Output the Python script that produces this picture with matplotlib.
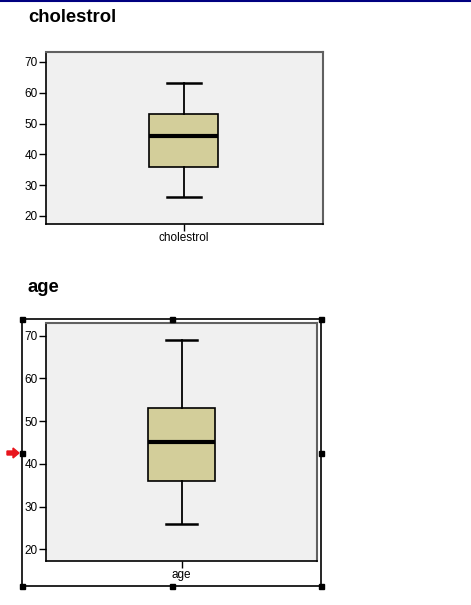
import matplotlib
matplotlib.use('Agg')
import matplotlib.pyplot as plt
from matplotlib.patches import Rectangle, FancyArrow

plt.rcParams['font.family'] = ['Liberation Sans', 'DejaVu Sans']

# box stats
variables = ['cholestrol', 'age']
medians = [46, 45]
q1s = [36, 36]
q3s = [53, 53]
whislo = [26, 26]
whishi = [63, 69]
yticks = [20, 30, 40, 50, 60, 70]

W, H = 471, 605
fig = plt.figure(figsize=(W / 100, H / 100), dpi=100)

def px_axes(x0, y0, x1, y1):
    # pixel box (top-left origin) -> figure fraction
    return fig.add_axes([x0 / W, 1 - y1 / H, (x1 - x0) / W, (y1 - y0) / H])

boxfill = '#d3ce9a'
face = '#f0f0f0'

# axes pixel boxes, y limits, box widths (fraction of x range)
layout = [
    dict(rect=(46, 52, 323, 224), ylim=(17.4, 73.2), pos=0.498, w=0.249, cw=0.123),
    dict(rect=(46, 323, 317, 561), ylim=(17.26, 72.97), pos=0.5, w=0.247, cw=0.118),
]
title_y = [17, 287]

for i, name in enumerate(variables):
    L = layout[i]
    ax = px_axes(*L['rect'])
    ax.set_facecolor(face)
    stats = [dict(med=medians[i], q1=q1s[i], q3=q3s[i],
                  whislo=whislo[i], whishi=whishi[i], label=name)]
    ax.bxp(stats, positions=[L['pos']], widths=L['w'], capwidths=L['cw'],
           showfliers=False, patch_artist=True,
           boxprops=dict(facecolor=boxfill, edgecolor='black', linewidth=1.2),
           medianprops=dict(color='black', linewidth=3),
           whiskerprops=dict(color='black', linewidth=1.3),
           capprops=dict(color='black', linewidth=1.8))
    ax.set_xlim(0, 1)
    ax.set_ylim(*L['ylim'])
    ax.set_yticks(yticks)
    ax.set_xticks([L['pos']])
    ax.set_xticklabels([name])
    ax.tick_params(labelsize=8.5, length=5, width=1, pad=1, colors='black')
    for s in ['left', 'bottom']:
        ax.spines[s].set_color('black')
        ax.spines[s].set_linewidth(1.2)
    for s in ['top', 'right']:
        ax.spines[s].set_color('#606060')
        ax.spines[s].set_linewidth(1.5)
    fig.text(28 / W, 1 - title_y[i] / H, name, fontsize=13.3, fontweight='bold',
             va='center', ha='left')

# overlay for the selection frame, handles and arrow
ov = fig.add_axes([0, 0, 1, 1], zorder=5)
ov.set_xlim(0, W)
ov.set_ylim(H, 0)
ov.axis('off')
ov.patch.set_alpha(0)

ov.plot([0, W], [0.8, 0.8], color='#000080', lw=1.5)
ov.add_patch(Rectangle((22, 319), 299, 267, fill=False, edgecolor='black', lw=1.2))
hx = [22, 172, 321]
hy = [319, 453, 586]
for x in hx:
    for y in hy:
        if x == 172 and y == 453:
            continue
        ov.add_patch(Rectangle((x - 2.5, y - 2.5), 5, 5, color='black'))
ov.add_patch(FancyArrow(7, 453, 12, 0, width=4, head_width=10, head_length=6,
                        length_includes_head=True, color='#e8141c'))

fig.savefig('out.png', dpi=100)
